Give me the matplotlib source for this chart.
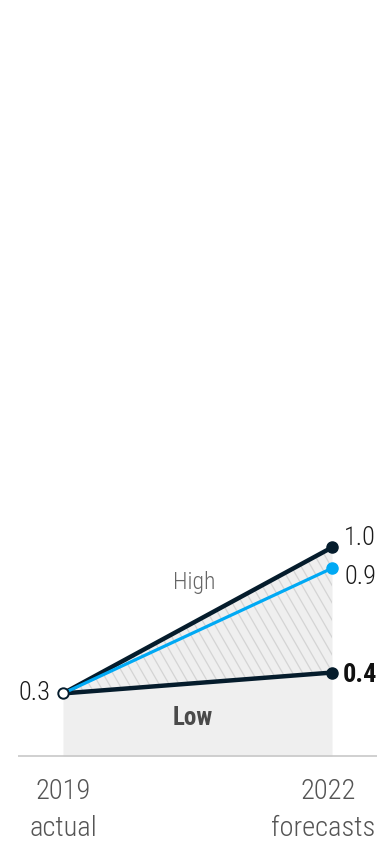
import numpy as np
import matplotlib
matplotlib.use("Agg")
import matplotlib.pyplot as plt
from matplotlib.collections import LineCollection
from matplotlib import font_manager as fm

# ---- data ----
years = [0, 1]
year_labels = ["2019\nactual", "2022\nforecasts"]
high = [0.3, 1.0]
mid = [0.3, 0.9]
low = [0.3, 0.4]
start_label = "0.3"
end_labels = {"high": "1.0", "mid": "0.9", "low": "0.4"}

# ---- font choice: prefer a condensed family ----
names = {f.name for f in fm.fontManager.ttflist}
family, stretch, scale = None, 'normal', 1.0
for cand in ['Roboto Condensed', 'Liberation Sans Narrow', 'Open Sans Condensed',
             'Noto Sans Condensed', 'Arial Narrow']:
    if cand in names:
        family = cand
        break
if family is None:
    if any(f.name == 'DejaVu Sans' and 'condensed' in str(f.stretch) for f in fm.fontManager.ttflist):
        family, stretch, scale = 'DejaVu Sans', 'condensed', 0.92
    else:
        family, scale = 'Roboto', 0.85
plt.rcParams['font.family'] = [family, 'DejaVu Sans']
plt.rcParams['font.stretch'] = stretch
LIGHT = 'light'

W, H = 377, 844
fig = plt.figure(figsize=(W / 100, H / 100), dpi=100)
ax = fig.add_axes([0, 0, 1, 1])
ax.axis('off')

# pixel mapping
x0px, x1px = 63, 332
ppx = x1px - x0px
zero_px, ppy = 756, 208.6
ax.set_xlim(-x0px / ppx, (W - x0px) / ppx)
ax.set_ylim(-(H - zero_px) / ppy, zero_px / ppy)

navy = "#051c2c"
cyan = "#00a9f4"
fillc = "#efefef"

# gray area under high
ax.fill_between(years, 0, high, color=fillc, lw=0, zorder=1)
# hatch region between low and high
band = ax.fill_between(years, low, high, color="none", lw=0, zorder=2)
clip_path = band.get_paths()[0]
ang = np.deg2rad(60)
step = 10 / ppx
segs = []
for c in np.arange(-1.0, 2.5, step):
    dy = 1.6
    dx = dy * ppy / ppx / np.tan(ang)
    segs.append([(c, 1.3), (c + dx, 1.3 - dy)])
lc = LineCollection(segs, colors="#d4d4d4", linewidths=0.9, zorder=2)
ax.add_collection(lc)
lc.set_clip_path(clip_path, ax.transData)

# baseline
ax.plot([(18 - x0px) / ppx, (W - x0px) / ppx], [0, 0], color="#c8c8c8", lw=1.2, zorder=3,
        solid_capstyle='butt')

# lines
ax.plot(years, high, color=navy, lw=3.2, zorder=4, solid_capstyle='round')
ax.plot(years, mid, color=cyan, lw=2.3, zorder=5, solid_capstyle='round')
ax.plot(years, low, color=navy, lw=3.2, zorder=4, solid_capstyle='round')

# markers
ax.plot([1], [high[1]], 'o', color=navy, ms=8, zorder=6)
ax.plot([1], [mid[1]], 'o', color=cyan, ms=8, zorder=6)
ax.plot([1], [low[1]], 'o', color=navy, ms=8, zorder=6)
ax.plot([0], [high[0]], 'o', mfc='white', mec=navy, mew=1.4, ms=7.5, zorder=7)

def ann(txt, xy, dx, dy, **kw):
    ax.annotate(txt, xy=xy, xytext=(dx, dy), textcoords='offset pixels', **kw)

numc = "#1a1a1a"
fs_num = 19 * scale
ann(start_label, (0, high[0]), -13, 0, ha='right', va='center', fontsize=fs_num, color=numc,
    fontweight=LIGHT)
ann(end_labels["high"], (1, high[1]), 12, 9, ha='left', va='center', fontsize=fs_num, color=numc,
    fontweight=LIGHT)
ann(end_labels["mid"], (1, mid[1]), 12, -9, ha='left', va='center', fontsize=fs_num, color=numc,
    fontweight=LIGHT)
ann(end_labels["low"], (1, low[1]), 11, -2, ha='left', va='center', fontsize=fs_num,
    color="#111111", fontweight='bold')

def ftext(x, y, s, **kw):
    fig.text(x / W, 1 - y / H, s, **kw)

ftext(194, 589, "High", ha='center', va='baseline', fontsize=17 * scale, color="#666666",
      fontweight=LIGHT)
ftext(193, 725, "Low", ha='center', va='baseline', fontsize=18 * scale, color="#4a4a4a",
      fontweight='bold')

fs_year = 20.5 * scale
for xi, lab in zip(years, year_labels):
    top, bot = lab.split("\n")
    xp = x0px + xi * ppx
    ftext(xp - 4 * xi, 799, top, ha='center', va='baseline', fontsize=fs_year, color="#555555",
          fontweight=LIGHT)
    if xi == 1:
        ftext(W - 2, 836, bot, ha='right', va='baseline', fontsize=fs_year, color="#555555",
              fontweight=LIGHT)
    else:
        ftext(xp, 836, bot, ha='center', va='baseline', fontsize=fs_year, color="#555555",
              fontweight=LIGHT)

fig.savefig("out.png", dpi=100, facecolor="white")
